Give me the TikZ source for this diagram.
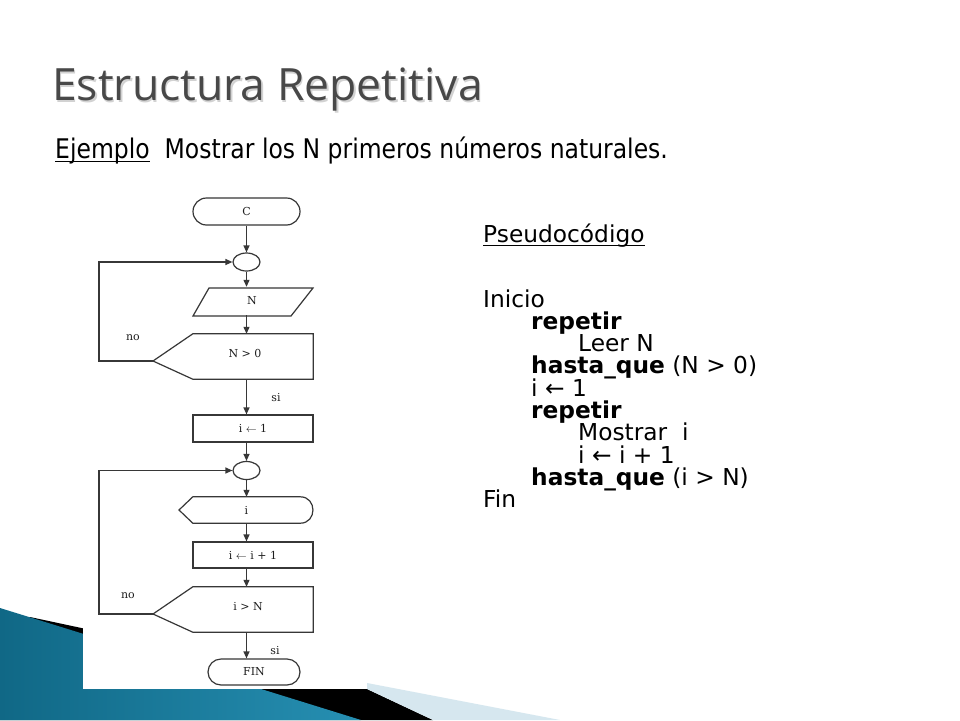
\documentclass[tikz,border=0pt]{standalone}
\usepackage{fontspec}
\usepackage{graphicx}
\setmainfont{DejaVu Sans}
\newfontfamily\titlefont{Open Sans}
\newfontfamily\fcfont{DejaVu Serif}
\usetikzlibrary{arrows.meta,shapes.geometric}
\definecolor{fcline}{RGB}{55,55,55}
\definecolor{fctext}{RGB}{30,30,30}
\definecolor{titlegray}{RGB}{72,72,72}
\definecolor{tealdark}{RGB}{16,104,134}
\definecolor{teallight}{RGB}{82,182,214}
\definecolor{tealmid}{RGB}{38,143,178}
\definecolor{palebg}{RGB}{214,231,239}
\newcommand\myul[2]{\setbox0\hbox{#2}\rlap{\rule[#1]{\wd0}{1.2pt}}#2}
\begin{document}
\begin{tikzpicture}[x=1pt,y=-1pt,
  fc/.style={draw=fcline, line width=1.2pt},
  lbl/.style={font=\fcfont\fontsize{11}{12}\selectfont, text=fctext, inner sep=0pt},
  arr/.style={draw=fcline, line width=1.2pt, -{Triangle[length=7pt,width=6pt]}},
  pseudo/.style={anchor=base west, inner sep=0pt, font=\fontsize{23.3}{26}\selectfont},
  boxnode/.style={fc, lbl, minimum width=120pt},
  shapebox/.style={lbl, minimum width=120pt}]
\useasboundingbox (0,0) rectangle (960,720);
\fill[white] (0,0) rectangle (960,720);
% bottom decoration
\fill[black] (30,617) -- (367,689) -- (433,720) -- (0,720) -- cycle;
\shade[left color=tealdark, middle color=teallight, right color=tealmid] (0,608) -- (361,720) -- (0,720) -- cycle;
\fill[palebg] (367,683) -- (560,720) -- (433,720) -- (367,689) -- cycle;
\fill[white] (83,190) rectangle (367,689);
% title
\node[anchor=base west, inner sep=0pt, font=\titlefont\fontsize{44.5}{50}\selectfont, text=gray!35] at (53.5,102) {Estructura Repetitiva};
\node[anchor=base west, inner sep=0pt, font=\titlefont\fontsize{44.5}{50}\selectfont, text=titlegray] (title) at (52,100.5) {Estructura Repetitiva};
\node[anchor=base west, inner sep=0pt, font=\fontsize{23.5}{28}\selectfont] (ej) at (55,158) {\scalebox{1}[1.15]{\myul{-3.6pt}{Ejemplo}\ \ Mostrar los N primeros números naturales.}};
% pseudocode
\node[pseudo] (p0) at (483,242) {\myul{-4.2pt}{Pseudocódigo}};
\node[pseudo] (p1) at (483,307) {Inicio};
\node[pseudo] (p2) at (531,329.3) {\textbf{repetir}};
\node[pseudo] (p3) at (578,351.6) {Leer N};
\node[pseudo] (p4) at (531,373.9) {\textbf{hasta\_que} (N > 0)};
\node[pseudo] (p5) at (531,396.2) {i ← 1};
\node[pseudo] (p6) at (531,418.5) {\textbf{repetir}};
\node[pseudo] (p7) at (578,440.8) {Mostrar\ \ i};
\node[pseudo] (p8) at (578,463.1) {i ← i + 1};
\node[pseudo] (p9) at (531,485.4) {\textbf{hasta\_que} (i > N)};
\node[pseudo] (p10) at (483,507.7) {Fin};
% flowchart
\coordinate (col) at (246.5,0);
\node[fc, lbl, rounded corners=13.5pt, minimum width=107pt, minimum height=27pt] (tC) at (246.5,211.5) {C};
\node[fc, ellipse, minimum width=27pt, minimum height=18pt, inner sep=0pt] (c1) at (246.5,262) {};
\node[shapebox, minimum height=28pt] (par) at (252,301) {N};
\draw[fc] (209,288) -- (313,288) -- (291,316) -- (193,316) -- cycle;
\node[shapebox, minimum height=45pt] (d1) at (253,356.5) {};
\node[lbl] (d1t) at (245,353) {N > 0};
\coordinate (d1tip) at (153,361);
\draw[fc] (d1.north west) -- (d1.north east) -- (d1.south east) -- (d1.south west) -- (d1tip) -- cycle;
\node[boxnode, minimum height=27pt] (b1) at (253,428.5) {i $\leftarrow$ 1};
\node[fc, ellipse, minimum width=27pt, minimum height=18pt, inner sep=0pt] (c2) at (246.5,470.5) {};
\node[lbl, minimum width=107pt, minimum height=26pt] (disp) at (246.5,510) {i};
\draw[fc] (disp.north west) -- (disp.north east) .. controls +(17,0) and +(17,0) .. (disp.south east) -- (disp.south west) -- (179,510) -- cycle;
\node[boxnode, minimum height=26pt] (b2) at (253,555) {i $\leftarrow$ i + 1};
\node[shapebox, minimum height=45pt] (d2) at (253,609.5) {};
\node[lbl] (d2t) at (248,607) {i > N};
\coordinate (d2tip) at (153,614);
\draw[fc] (d2.north west) -- (d2.north east) -- (d2.south east) -- (d2.south west) -- (d2tip) -- cycle;
\node[fc, lbl, rounded corners=13pt, minimum width=92pt, minimum height=26pt] (fin) at (254,672) {FIN};
% connectors
\draw[arr] (tC.south) -- (c1.north);
\draw[arr] (c1.south) -- (col |- par.north);
\draw[arr] (col |- par.south) -- (col |- d1.north);
\draw[arr] (col |- d1.south) -- (col |- b1.north);
\draw[arr] (col |- b1.south) -- (c2.north);
\draw[arr] (c2.south) -- (col |- disp.north);
\draw[arr] (col |- disp.south) -- (col |- b2.north);
\draw[arr] (col |- b2.south) -- (col |- d2.north);
\draw[arr] (col |- d2.south) -- (col |- fin.north);
\draw[arr] (d1tip) -- ++(-54,0) |- (c1.west);
\draw[arr] (d2tip) -- ++(-54,0) |- (c2.west);
\node[lbl] (no1) at (133,338) {no};
\node[lbl] (no2) at (128,596) {no};
\node[lbl] (si1) at (276,398) {si};
\node[lbl] (si2) at (275,651) {si};
\end{tikzpicture}
\end{document}
